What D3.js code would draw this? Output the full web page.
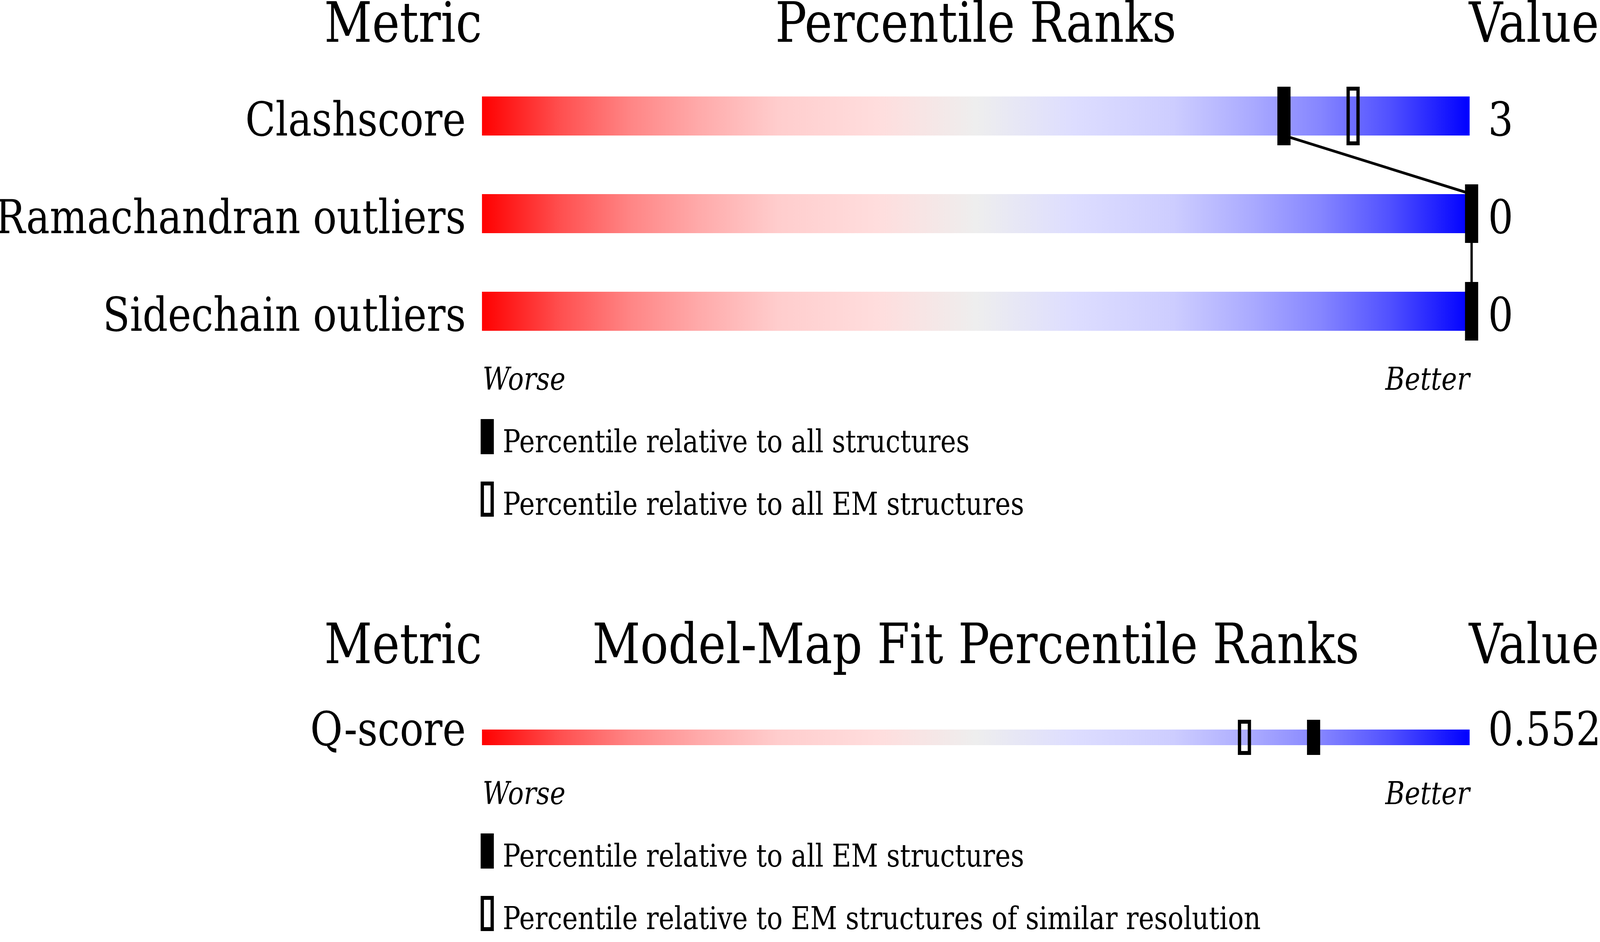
<!DOCTYPE html>
<html>
<head>
<meta charset="utf-8">
<script src="https://cdn.jsdelivr.net/npm/d3@7"></script>
<style>
  html, body { margin: 0; padding: 0; background: #fff; overflow: hidden; }
  #graph svg { display: block; width: 100vw; height: 100vh; }
  svg text { font-family: "DejaVu Serif", serif; fill: #000; }
</style>
</head>
<body>
<div id="graph"></div>
<script>
// chart 1: geometry percentiles
const metrics = ["Clashscore", "Ramachandran outliers", "Sidechain outliers"];
const pctAll = [81, 100, 100];
const pctEM = [88, null, null];
const values = ["3", "0", "0"];
const legend1 = ["Percentile relative to all structures", "Percentile relative to all EM structures"];

// chart 2: model-map fit
const fitMetrics = ["Q-score"];
const fitPctEM = [84];
const fitPctSimilar = [77];
const fitValues = ["0.552"];
const legend2 = ["Percentile relative to all EM structures", "Percentile relative to EM structures of similar resolution"];

// worse -> better colour ramp
const rampStops = [0, 0.08, 0.15, 0.22, 0.3, 0.4, 0.5, 0.6, 0.7, 0.78, 0.85, 0.92, 1];
const rampColors = ["#ff0000", "#ff5050", "#ff8585", "#ffaaaa", "#ffcdcd", "#ffdddd", "#eeeeee",
                    "#ddddff", "#cdcdff", "#aaaaff", "#8585ff", "#5050ff", "#0000ff"];

const width = 4860, height = 2412;
const left = 1464, right = 4464;

const svg = d3.select("#graph").append("svg")
  .attr("viewBox", [0, 0, width, height])
  .attr("preserveAspectRatio", "none");

const grad = svg.append("defs").append("linearGradient").attr("id", "slider");
grad.selectAll("stop").data(rampStops).join("stop")
  .attr("offset", d => d)
  .attr("stop-color", (d, i) => rampColors[i]);

const x = d3.scaleLinear().domain([0, 100]).range([left, right]);

function panel(top, title, names, vals, filled, hollow, legendText, connect) {
  const y = d3.scaleBand().domain(names)
    .range([top + 140, top + 140 + 250 * names.length - 150])
    .paddingInner(0.6).paddingOuter(0);
  const g = svg.append("g");

  g.append("text").attr("x", left).attr("y", top).attr("text-anchor", "end")
    .attr("font-size", 142).text("Metric");
  g.append("text").attr("x", (left + right) / 2).attr("y", top).attr("text-anchor", "middle")
    .attr("font-size", 142).text(title);
  g.append("text").attr("x", right - 2).attr("y", top)
    .attr("font-size", 142).text("Value");

  g.selectAll(".bar").data(names).join("rect")
    .attr("x", left).attr("y", d => y(d))
    .attr("width", right - left).attr("height", y.bandwidth())
    .attr("fill", "url(#slider)");

  g.selectAll(".lab").data(names).join("text")
    .attr("x", left - 49).attr("y", d => y(d) + y.bandwidth())
    .attr("text-anchor", "end").attr("font-size", 120).text(d => d);

  g.selectAll(".val").data(vals).join("text")
    .attr("x", right + 56).attr("y", (d, i) => y(names[i]) + y.bandwidth())
    .attr("font-size", 120).text(d => d);

  const cx = p => x(p) + 6;

  if (connect) {
    for (let i = 1; i < names.length; i++) {
      g.append("line")
        .attr("x1", cx(filled[i - 1])).attr("y1", y(names[i - 1]) + y.bandwidth())
        .attr("x2", cx(filled[i])).attr("y2", y(names[i]))
        .attr("stroke", "#000").attr("stroke-width", 7);
    }
  }

  names.forEach((n, i) => {
    if (hollow[i] != null) {
      g.append("rect")
        .attr("x", cx(hollow[i]) - 15).attr("y", y(n) - 20)
        .attr("width", 30).attr("height", y.bandwidth() + 40)
        .attr("fill", "none").attr("stroke", "#000").attr("stroke-width", 10);
    }
    g.append("rect")
      .attr("x", cx(filled[i]) - 20).attr("y", y(n) - 25)
      .attr("width", 40).attr("height", y.bandwidth() + 50)
      .attr("fill", "#000");
  });

  const bottom = y(names[names.length - 1]) + y.bandwidth();
  g.append("text").attr("x", left + 2).attr("y", bottom + 151)
    .attr("font-size", 80).attr("font-style", "italic").text("Worse");
  g.append("text").attr("x", right).attr("y", bottom + 151).attr("text-anchor", "end")
    .attr("font-size", 80).attr("font-style", "italic").text("Better");

  legendText.forEach((t, i) => {
    const ty = bottom + 226 + i * 160;
    if (i === 0) {
      g.append("rect").attr("x", left - 4).attr("y", ty).attr("width", 40).attr("height", 90).attr("fill", "#000");
    } else {
      g.append("rect").attr("x", left + 1).attr("y", ty + 5).attr("width", 30).attr("height", 80)
        .attr("fill", "none").attr("stroke", "#000").attr("stroke-width", 10);
    }
    g.append("text").attr("x", left + 63).attr("y", ty + 85).attr("font-size", 80).text(t);
  });
}

panel(107, "Percentile Ranks", metrics, values, pctAll, pctEM, legend1, true);
panel(1698, "Model-Map Fit Percentile Ranks", fitMetrics, fitValues, fitPctEM, fitPctSimilar, legend2, false);
</script>
</body>
</html>
